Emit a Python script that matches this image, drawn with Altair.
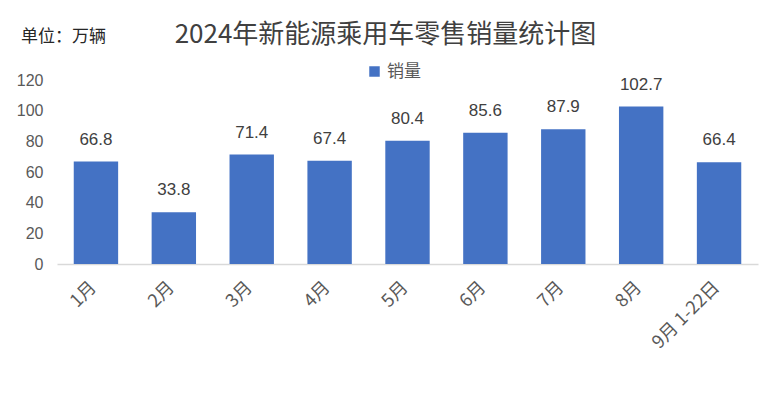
import altair as alt
import pandas as pd

months = ["1月", "2月", "3月", "4月", "5月", "6月", "7月", "8月", "9月 1-22日"]
sales = [66.8, 33.8, 71.4, 67.4, 80.4, 85.6, 87.9, 102.7, 66.4]
series_name = "销量"
y_ticks = [0, 20, 40, 60, 80, 100, 120]

df = pd.DataFrame({"month": months, "sales": sales, "series": series_name})

FONT = "Noto Sans CJK SC"
TXT = "#595959"

y_axis = alt.Axis(values=y_ticks, grid=False, domain=False, ticks=False,
                  labelOverlap=False,
                  labelFontSize=16, labelColor=TXT, labelFont="Liberation Sans",
                  labelPadding=14)

base = alt.Chart(df).encode(
    x=alt.X("month:N", sort=months, title=None,
            scale=alt.Scale(paddingInner=0.43, paddingOuter=0.215),
            axis=alt.Axis(labelAngle=-45, labelFontSize=18, labelColor=TXT,
                          labelFont=FONT, domainColor="#D9D9D9", domainWidth=1.5,
                          ticks=False, labelPadding=14, tickOffset=-9)),
)

bars = base.mark_bar(color="#4472C4").encode(
    y=alt.Y("sales:Q", title=None,
            scale=alt.Scale(domain=[0, 120], nice=False),
            axis=y_axis),
    color=alt.Color("series:N", title=None,
                    scale=alt.Scale(range=["#4472C4"]),
                    legend=alt.Legend(orient="none", legendX=309, legendY=-17,
                                      symbolType="square", symbolSize=110,
                                      symbolStrokeWidth=0,
                                      labelFontSize=17, labelColor=TXT, labelFont=FONT)),
)

labels = base.mark_text(dy=-22, fontSize=17, color="#404040", font="Liberation Sans").encode(
    y=alt.Y("sales:Q", axis=y_axis),
    text=alt.Text("sales:Q", format=".1f"),
)

unit = alt.Chart(pd.DataFrame({"t": ["单位：万辆"]})).mark_text(
    align="left", baseline="middle", fontSize=17, color="#262626", font=FONT
).encode(x=alt.value(-36), y=alt.value(-43), text="t:N")

chart = alt.layer(bars, labels, unit).properties(
    width=701, height=184,
    title=alt.TitleParams("2024年新能源乘用车零售销量统计图", anchor="middle",
                          fontSize=26, font=FONT, fontWeight="normal",
                          color="#404040", dx=-22, offset=-20),
    autosize=alt.AutoSizeParams(type="none"),
    padding={"left": 49, "top": 72, "right": 4, "bottom": 120},
).configure_view(stroke=None)

chart.save("out.html", embed_options={"renderer": "svg", "actions": False})
